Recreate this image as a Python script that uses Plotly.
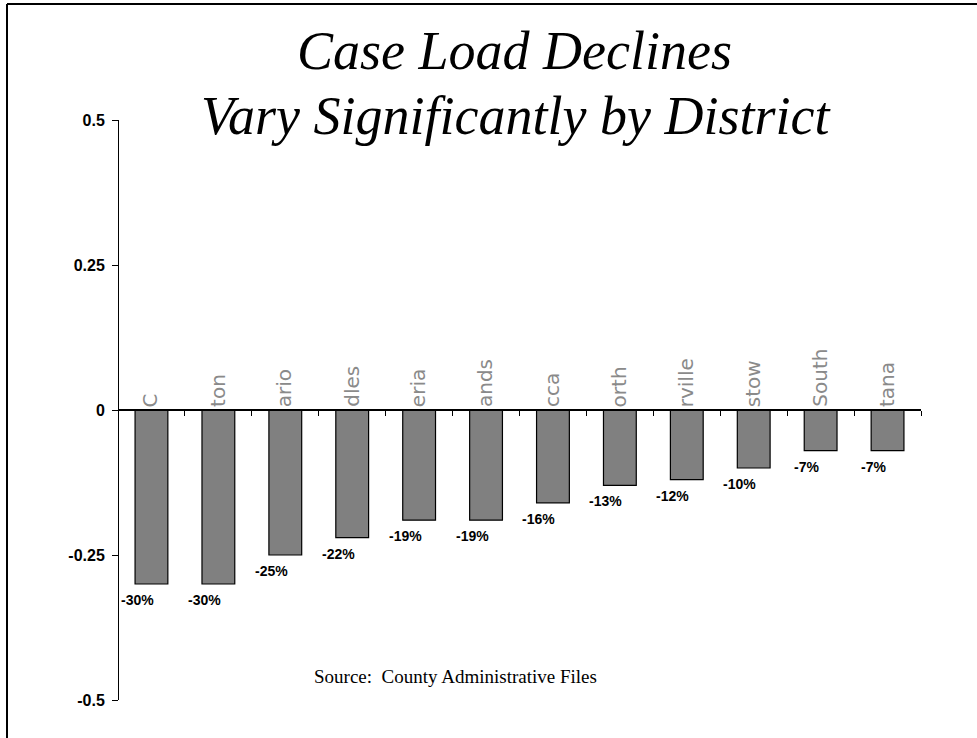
import plotly.graph_objects as go

# Data
categories = ["C", "ton", "ario", "dles", "eria", "ands", "cca", "orth", "rville", "stow", "South", "tana"]
values = [-0.30, -0.30, -0.25, -0.22, -0.19, -0.19, -0.16, -0.13, -0.12, -0.10, -0.07, -0.07]
bar_labels = ["-30%", "-30%", "-25%", "-22%", "-19%", "-19%", "-16%", "-13%", "-12%", "-10%", "-7%", "-7%"]
y_tickvals = [-0.5, -0.25, 0, 0.25, 0.5]
y_ticktext = ["-0.5", "-0.25", "0", "0.25", "0.5"]

W, H = 977, 738
ML, MR, MT, MB = 118, 56, 120, 38
PW = W - ML - MR
PH = H - MT - MB


def px_x(p):
    return (p - ML) / PW


def px_y(p):
    return (H - MB - p) / PH


fig = go.Figure()
fig.add_trace(go.Bar(
    x=categories, y=values, width=0.49,
    marker=dict(color="#808080", line=dict(color="black", width=1.2)),
    hoverinfo="skip",
))

annotations = []
for c, v, t in zip(categories, values, bar_labels):
    annotations.append(dict(
        x=c, y=v, xref="x", yref="y", text=t, showarrow=False,
        yanchor="top", xanchor="center", xshift=-14, yshift=-6,
        font=dict(family="Liberation Sans, Arial", size=14, color="black", weight="bold"),
    ))
for c in categories:
    annotations.append(dict(
        x=c, y=0, xref="x", yref="y", text=c, showarrow=False,
        textangle=-90, yanchor="bottom", xanchor="center", yshift=1, xshift=-1,
        font=dict(family="DejaVu Sans", size=20, color="#8a8a8a"),
    ))

annotations.append(dict(
    x=px_x(514), y=px_y(51), xref="paper", yref="paper", showarrow=False,
    text="Case Load Declines", xanchor="center", yanchor="middle",
    font=dict(family="Liberation Serif, Times New Roman", size=54, color="black", style="italic"),
))
annotations.append(dict(
    x=px_x(516), y=px_y(116), xref="paper", yref="paper", showarrow=False,
    text="Vary Significantly by District", xanchor="center", yanchor="middle",
    font=dict(family="Liberation Serif, Times New Roman", size=54, color="black", style="italic"),
))
annotations.append(dict(
    x=px_x(455), y=px_y(676), xref="paper", yref="paper", showarrow=False,
    text="Source:  County Administrative Files", xanchor="center", yanchor="middle",
    font=dict(family="Liberation Serif, Times New Roman", size=19, color="black"),
))

shapes = [
    dict(type="line", xref="paper", yref="paper", x0=px_x(7), x1=px_x(990), y0=px_y(4), y1=px_y(4),
         line=dict(color="black", width=2)),
    dict(type="line", xref="paper", yref="paper", x0=px_x(7), x1=px_x(7), y0=px_y(4), y1=px_y(750),
         line=dict(color="black", width=2)),
]

fig.update_layout(
    width=W, height=H,
    margin=dict(l=ML, r=MR, t=MT, b=MB, pad=0),
    paper_bgcolor="white", plot_bgcolor="white",
    showlegend=False,
    annotations=annotations,
    shapes=shapes,
    bargap=0.51,
)
fig.update_xaxes(
    type="category", anchor="free", position=0.5,
    showline=True, linecolor="black", linewidth=1.5,
    ticks="outside", tickson="boundaries", ticklen=5, tickcolor="black", tickwidth=1,
    showticklabels=False, showgrid=False, zeroline=False,
    range=[-0.5, len(categories) - 0.5],
)
fig.update_yaxes(
    range=[-0.5, 0.5], anchor="free", position=0,
    tickvals=y_tickvals, ticktext=y_ticktext,
    showline=True, linecolor="black", linewidth=1,
    ticks="outside", ticklen=6, tickcolor="black", tickwidth=1,
    ticklabelstandoff=4,
    tickfont=dict(family="Liberation Sans, Arial", size=16, color="black", weight="bold"),
    showgrid=False, zeroline=False,
)

fig.write_html(
    "out.html",
    config={"displayModeBar": False},
    post_script="document.body.style.margin='0';document.body.style.overflow='hidden';",
)
